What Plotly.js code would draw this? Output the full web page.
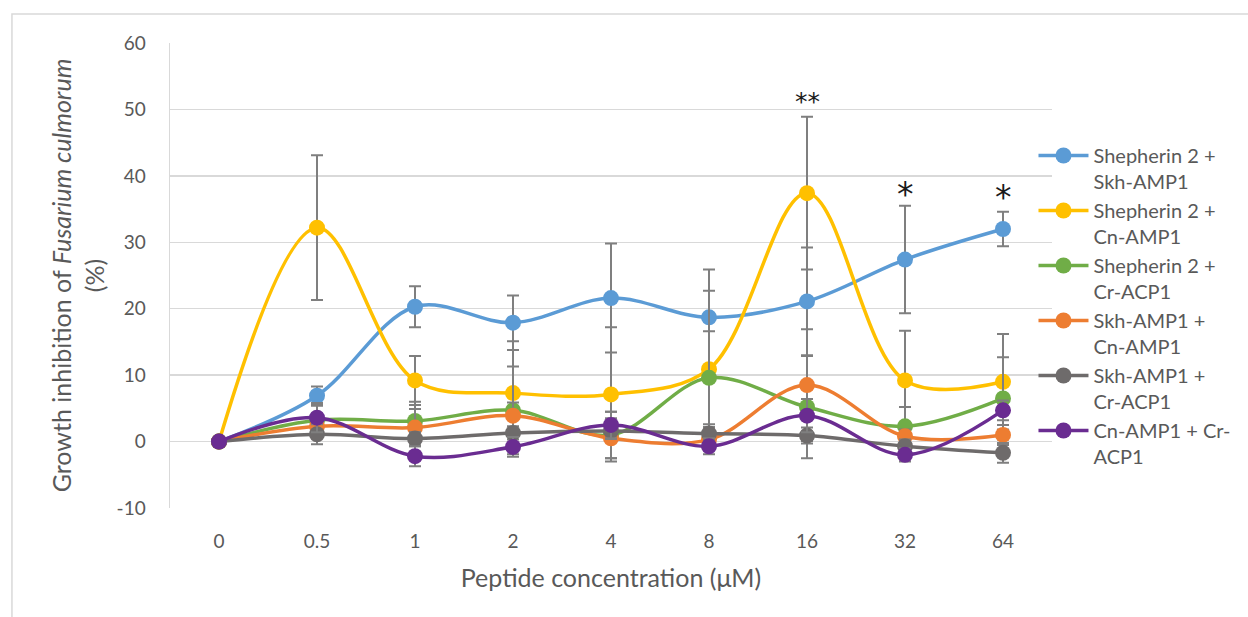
<!DOCTYPE html>
<html>
<head>
<meta charset="utf-8">
<script src="https://cdn.plot.ly/plotly-3.0.1.min.js"></script>
<style>html,body{margin:0;padding:0;background:#fff;}#chart{width:1248px;height:617px;}</style>
</head>
<body>
<div id="chart"></div>
<script>
const concentrations = ['0', '0.5', '1', '2', '4', '8', '16', '32', '64'];

const seriesNames = [
  'Shepherin 2 +<br>Skh-AMP1',
  'Shepherin 2 +<br>Cn-AMP1',
  'Shepherin 2 +<br>Cr-ACP1',
  'Skh-AMP1 +<br>Cn-AMP1',
  'Skh-AMP1 +<br>Cr-ACP1',
  'Cn-AMP1 + Cr-<br>ACP1'
];

const shep2Skh = [0, 6.9, 20.3, 17.9, 21.6, 18.7, 21.1, 27.4, 32.0];
const shep2Cn  = [0, 32.2, 9.2, 7.3, 7.1, 10.9, 37.4, 9.2, 9.0];
const shep2Cr  = [0, 3.2, 3.1, 4.7, 1.0, 9.6, 5.2, 2.3, 6.5];
const skhCn    = [0, 2.3, 2.1, 3.9, 0.5, 0.3, 8.5, 0.8, 1.0];
const skhCr    = [0, 1.1, 0.45, 1.3, 1.6, 1.2, 0.9, -0.7, -1.7];
const cnCr     = [0, 3.6, -2.2, -0.8, 2.5, -0.7, 3.9, -2.0, 4.7];

const errShep2Skh = [0, 1.4, 3.1, 4.1, 8.2, 7.2, 8.1, 8.1, 2.6];
const errShep2Cn  = [0, 10.9, 3.7, 7.8, 10.1, 11.8, 11.5, 7.5, 7.2];
const errShep2Cr  = [0, 2.2, 2.9, 6.6, 3.5, 7.0, 7.7, 2.9, 6.2];
const errSkhCn    = [0, 1.5, 2.8, 2.0, 3.0, 1.5, 8.4, 1.0, 1.5];
const errSkhCr    = [0, 1.5, 1.0, 1.0, 1.2, 1.0, 1.2, 1.0, 1.5];
const errCnCr     = [0, 2.2, 1.5, 1.5, 2.0, 1.2, 2.5, 1.0, 1.5];

const yTickVals = [-10, 0, 10, 20, 30, 40, 50, 60];
const yTickText = ['-10', '0', '10', '20', '30', '40', '50', '60'];

const sigConc  = ['16', '32', '64'];
const sigLevel = [51.2, 37.2, 36.7];
const sigText  = ['**', '*', '*'];
const sigSize  = [25, 33, 33];

const colors = ['#5B9BD5', '#FFC000', '#70AD47', '#ED7D31', '#6E6B6B', '#6A2C91'];
const values = [shep2Skh, shep2Cn, shep2Cr, skhCn, skhCr, cnCr];
const errors = [errShep2Skh, errShep2Cn, errShep2Cr, errSkhCn, errSkhCr, errCnCr];

const FONT = 'Lato, "Open Sans", sans-serif';
const GREY = '#595959';

const traces = values.map((v, i) => ({
  type: 'scatter',
  mode: 'lines+markers',
  x: concentrations,
  y: v,
  name: seriesNames[i],
  legendgroup: 'g' + i,
  line: {color: colors[i], width: 3.5, shape: 'spline', smoothing: 1},
  marker: {color: colors[i], size: 16, symbol: 'circle'},
  error_y: {type: 'data', array: errors[i], visible: true, color: '#7F7F7F', thickness: 2, width: 6}
}));

const layout = {
  width: 1248,
  height: 617,
  paper_bgcolor: '#ffffff',
  plot_bgcolor: '#ffffff',
  margin: {l: 170, r: 191, t: 43, b: 109},
  font: {family: FONT, color: GREY, size: 18},
  showlegend: true,
  legend: {
    x: 0.979, xanchor: 'left', y: 0.80, yanchor: 'top',
    font: {family: FONT, size: 20, color: GREY},
    valign: 'top',
    itemwidth: 50,
    tracegroupgap: 0,
    bgcolor: 'rgba(0,0,0,0)'
  },
  xaxis: {
    type: 'category',
    range: [-0.5, 8.5],
    showgrid: false,
    showline: false,
    zeroline: false,
    ticks: '',
    ticklabelstandoff: 20,
    tickfont: {family: FONT, size: 19, color: GREY},
    title: {text: 'Peptide concentration (μM)', font: {family: FONT, size: 25, color: GREY}, standoff: 18}
  },
  yaxis: {
    range: [-10, 60],
    tickmode: 'array',
    tickvals: yTickVals,
    ticktext: yTickText,
    showgrid: true,
    gridcolor: '#D9D9D9',
    gridwidth: 1.5,
    zeroline: false,
    showline: true,
    linecolor: '#D9D9D9',
    linewidth: 1.5,
    ticks: '',
    ticklabelstandoff: 19,
    tickfont: {family: FONT, size: 19, color: GREY},
    title: {text: 'Growth inhibition of <i>Fusarium culmorum</i><br>(%)', font: {family: FONT, size: 25, color: GREY}, standoff: 5}
  },
  annotations: sigConc.map((c, i) => ({
    x: concentrations.indexOf(c), y: sigLevel[i], xref: 'x', yref: 'y',
    text: sigText[i], showarrow: false,
    font: {family: 'DejaVu Sans, sans-serif', size: sigSize[i], color: '#1A1A1A'}
  })),
  shapes: [{
    type: 'rect', xref: 'paper', yref: 'paper',
    x0: -0.1792, x1: 1.5, y0: -0.5, y1: 1.0624,
    line: {color: '#D9D9D9', width: 1.5}, fillcolor: 'rgba(0,0,0,0)', layer: 'below'
  }]
};

Plotly.newPlot('chart', traces, layout, {displayModeBar: false, staticPlot: true});
</script>
</body>
</html>
